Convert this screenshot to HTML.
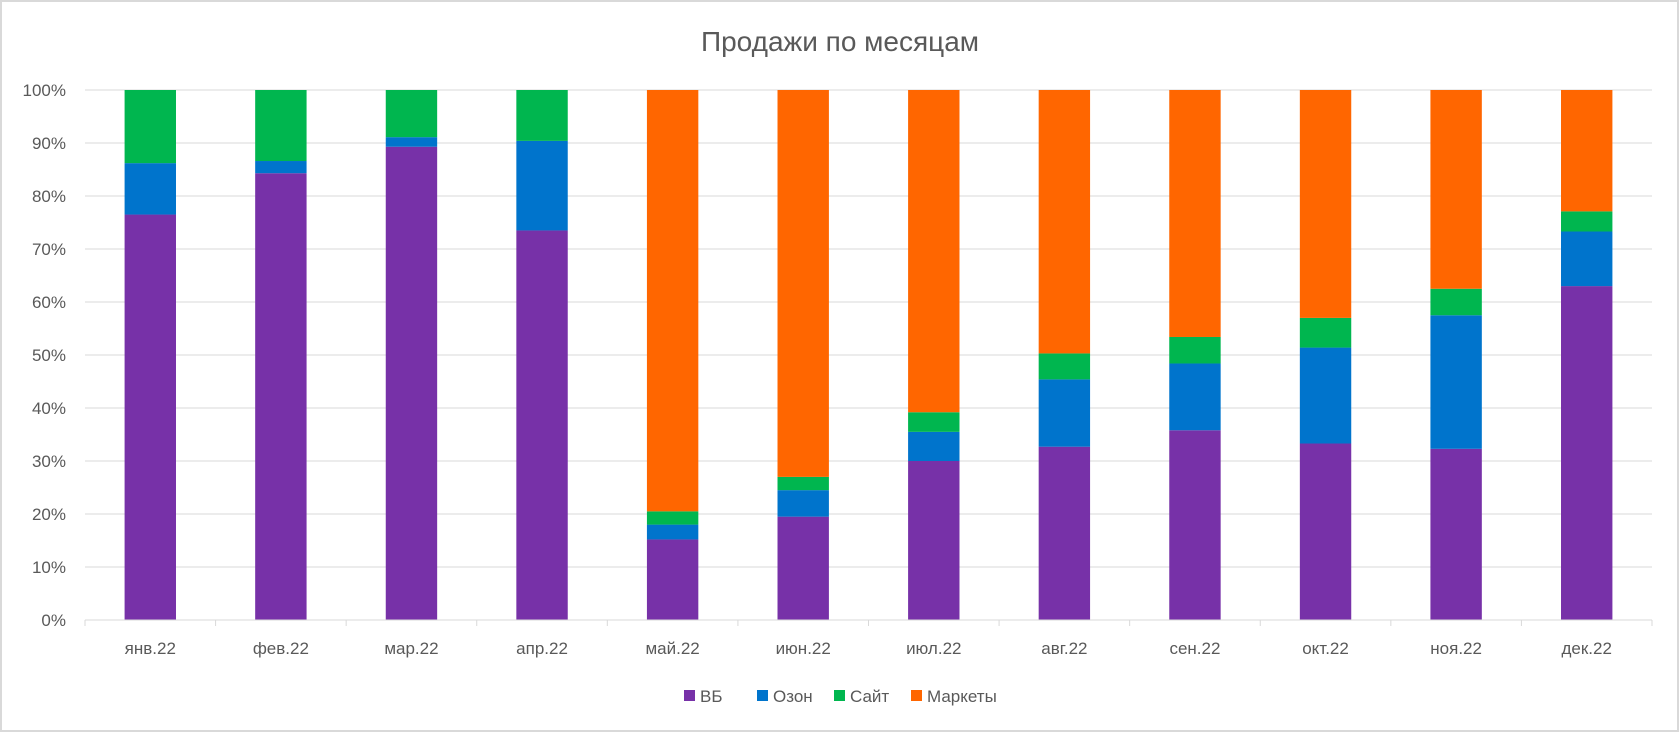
<!DOCTYPE html>
<html><head><meta charset="utf-8"><style>
body{margin:0;background:#fff;}
svg{display:block;font-family:"Liberation Sans","DejaVu Sans",sans-serif;}
</style></head><body>
<svg id="chart" width="1680" height="733">
<rect x="1" y="1" width="1677" height="730" fill="#fff" stroke="#d9d9d9" stroke-width="2"/>
<text x="840" y="51" text-anchor="middle" font-size="28" fill="#595959">Продажи по месяцам</text>
<g id="grid"></g><g id="bars"></g><g id="axes"></g>
<g id="legend" font-size="17" fill="#595959"></g>
</svg>
<script>
const categories=["янв.22","фев.22","мар.22","апр.22","май.22","июн.22","июл.22","авг.22","сен.22","окт.22","ноя.22","дек.22"];
const seriesNames=["ВБ","Озон","Сайт","Маркеты"];
const seriesColors=["#7731a8","#0074cc","#00b64f","#ff6600"];
const vb=[76.5,84.3,89.3,73.5,15.2,19.5,30.0,32.7,35.8,33.3,32.3,63.0];
const ozon=[9.7,2.3,1.8,16.9,2.8,5.0,5.5,12.7,12.6,18.1,25.2,10.3];
const site=[13.8,13.4,8.9,9.6,2.5,2.5,3.7,4.9,5.0,5.6,5.0,3.8];
const markets=[0,0,0,0,79.5,73.0,60.8,49.7,46.6,43.0,37.5,22.9];
const yTicks=[0,10,20,30,40,50,60,70,80,90,100];
const NS="http://www.w3.org/2000/svg";
const L=85,R=1652,T=90,B=620;
const step=(R-L)/categories.length, bw=51.4;
const y=v=>B-(v/100)*(B-T);
const xc=i=>L+step*(i+0.5);
function mk(tag,attrs,parent){const e=document.createElementNS(NS,tag);for(const k in attrs)e.setAttribute(k,attrs[k]);parent.appendChild(e);return e;}
const grid=document.getElementById('grid'),axes=document.getElementById('axes'),bars=document.getElementById('bars'),legend=document.getElementById('legend');
yTicks.forEach(t=>{
 const l=mk('line',{x1:L,x2:R,y1:y(t),y2:y(t),stroke:'#d9d9d9','stroke-width':1},grid);
 
 
 const tx=mk('text',{x:L-19,y:y(t)+6,'text-anchor':'end','font-size':17,fill:'#595959'},axes);
 tx.textContent=t+'%';
 
 
});
const xa=mk('line',{x1:L,x2:R,y1:B,y2:B,stroke:'#d9d9d9','stroke-width':1},axes);


for(let i=0;i<=categories.length;i++){
 const tk=mk('line',{x1:L+step*i,x2:L+step*i,y1:B,y2:B+6,stroke:'#d9d9d9'},axes);
 
 
}
const series=[vb,ozon,site,markets];
categories.forEach((c,i)=>{
 let acc=0;
 series.forEach((s,k)=>{
  const v=s[i]; if(v<=0) return;
  const r=mk('rect',{x:xc(i)-bw/2,y:y(acc+v),width:bw,height:y(acc)-y(acc+v),fill:seriesColors[k]},bars);
  
  
  acc+=v;
 });
 const tx=mk('text',{x:xc(i),y:B+34,'text-anchor':'middle','font-size':17,fill:'#595959'},axes);
 tx.textContent=c;
 
 
});
const lx=[684,757,834,911];
seriesNames.forEach((n,k)=>{
 const g=mk('g',{},legend);
 
 
 mk('rect',{x:lx[k],y:690,width:11,height:11,fill:seriesColors[k]},g);
 const t=mk('text',{x:lx[k]+16,y:702},g);t.textContent=n;
});
</script>
</body></html>
